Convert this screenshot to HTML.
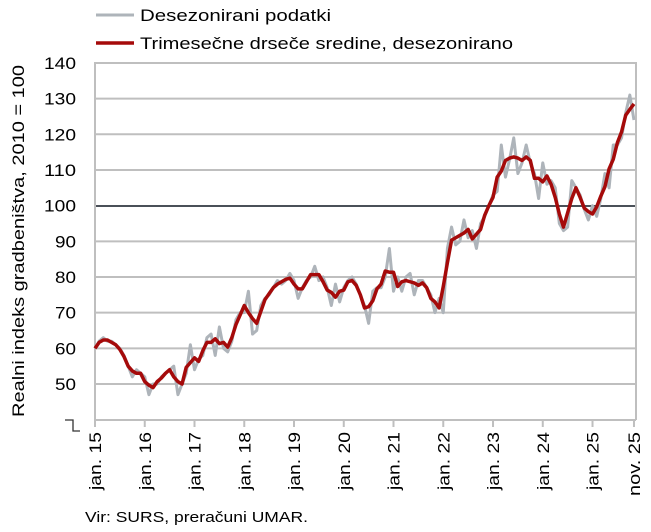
<!DOCTYPE html>
<html><head><meta charset="utf-8"><style>
body{margin:0;background:#fff;}
svg{display:block;font-family:"Liberation Sans",sans-serif;}
</style></head><body>
<svg id="s" width="651" height="532" xmlns="http://www.w3.org/2000/svg">
<g id="grid" stroke="#bfbfbf" stroke-width="2"></g>
<line x1="95" y1="206" x2="636" y2="206" stroke="#4a5058" stroke-width="2"/>
<line x1="95" y1="62" x2="95" y2="420" stroke="#bfbfbf" stroke-width="2"/>
<line x1="636" y1="62" x2="636" y2="420" stroke="#bfbfbf" stroke-width="2"/>
<line x1="95" y1="420" x2="636" y2="420" stroke="#bfbfbf" stroke-width="2"/>
<polyline points="65,420 73,420 73,431 80,431" fill="none" stroke="#333" stroke-width="1.3"/>
<g id="yl" font-size="17" fill="#000" text-anchor="end"></g>
<g id="xl" font-size="17" fill="#000"></g>
<polyline id="g" fill="none" stroke="#aeb4ba" stroke-width="3" stroke-linejoin="round"/>
<polyline id="r" fill="none" stroke="#a50a0a" stroke-width="3.5" stroke-linejoin="round"/>
<line x1="96" y1="15" x2="134" y2="15" stroke="#aeb4ba" stroke-width="3"/>
<text x="140" y="21" font-size="17" textLength="191" lengthAdjust="spacingAndGlyphs">Desezonirani podatki</text>
<line x1="96" y1="43" x2="134" y2="43" stroke="#a50a0a" stroke-width="3.5"/>
<text x="140" y="49" font-size="17" textLength="373" lengthAdjust="spacingAndGlyphs">Trimesečne drseče sredine, desezonirano</text>
<text transform="translate(24,241) rotate(-90)" text-anchor="middle" font-size="17" textLength="352" lengthAdjust="spacingAndGlyphs">Realni indeks gradbeništva, 2010 = 100</text>
<text x="85" y="522" font-size="15" textLength="223" lengthAdjust="spacingAndGlyphs">Vir: SURS, preračuni UMAR.</text>
</svg>
<script>
var NS="http://www.w3.org/2000/svg";
function Y(v){return 384-(v-50)*3.567;}
function X(m){return 95+m*4.146;}
var grid=document.getElementById('grid'),yl=document.getElementById('yl'),xl=document.getElementById('xl');
for(var v=50;v<=140;v+=10){
 if(v!=100){var l=document.createElementNS(NS,'line');l.setAttribute('x1',95);l.setAttribute('x2',636);l.setAttribute('y1',Y(v));l.setAttribute('y2',Y(v));grid.appendChild(l);}
 var t=document.createElementNS(NS,'text');t.setAttribute('x',76);t.setAttribute('y',Y(v)+6);
 t.setAttribute('textLength',v>=100?32:21);t.setAttribute('lengthAdjust','spacingAndGlyphs');t.textContent=v;yl.appendChild(t);
}
var labs=[];for(var i=0;i<=10;i++)labs.push([i*12,'jan. '+(15+i)]);labs.push([130,'nov. 25']);
labs.forEach(function(a){
 var x=X(a[0]);
 var l=document.createElementNS(NS,'line');l.setAttribute('x1',x);l.setAttribute('x2',x);l.setAttribute('y1',420);l.setAttribute('y2',427);l.setAttribute('stroke','#bfbfbf');l.setAttribute('stroke-width',2);xl.appendChild(l);
 var t=document.createElementNS(NS,'text');t.setAttribute('text-anchor','end');t.setAttribute('transform','translate('+(x+6)+',432) rotate(-90)');
 t.setAttribute('textLength',a[1][0]=='n'?64:58);t.setAttribute('lengthAdjust','spacingAndGlyphs');t.textContent=a[1];xl.appendChild(t);
});
var d=[60,62,63,62,62,61,60,58,55,52,54,53,
52,47,50,50,52,53,54,55,47,50,53,61,
54,57,58,63,64,58,66,60,59,62,68,70,
70,76,64,65,72,74,75,77,79,78,79,81,
79,74,77,79,80,83,79,80,77,72,78,73,
77,79,80,78,75,72,67,76,77,77,80,88,
76,80,76,80,81,75,79,79,77,75,70,74,
70,88,94,89,90,96,91,93,88,95,97,100,
103,104,117,108,113,119,109,112,117,112,109,102,
112,106,107,105,95,93,94,107,105,103,99,96,
100,97,102,109,105,117,117,119,126,131,124];
var gp=[],rp=[];
for(var m=0;m<d.length;m++){
 gp.push(X(m)+','+Y(d[m]));
 var a=m==0?d[0]:(m==d.length-1?(d[m]+d[m-1])/2+1:(d[m-1]+d[m]+d[m+1])/3);
 rp.push(X(m)+','+Y(a));
}
document.getElementById('g').setAttribute('points',gp.join(' '));
document.getElementById('r').setAttribute('points',rp.join(' '));
</script>
</body></html>
